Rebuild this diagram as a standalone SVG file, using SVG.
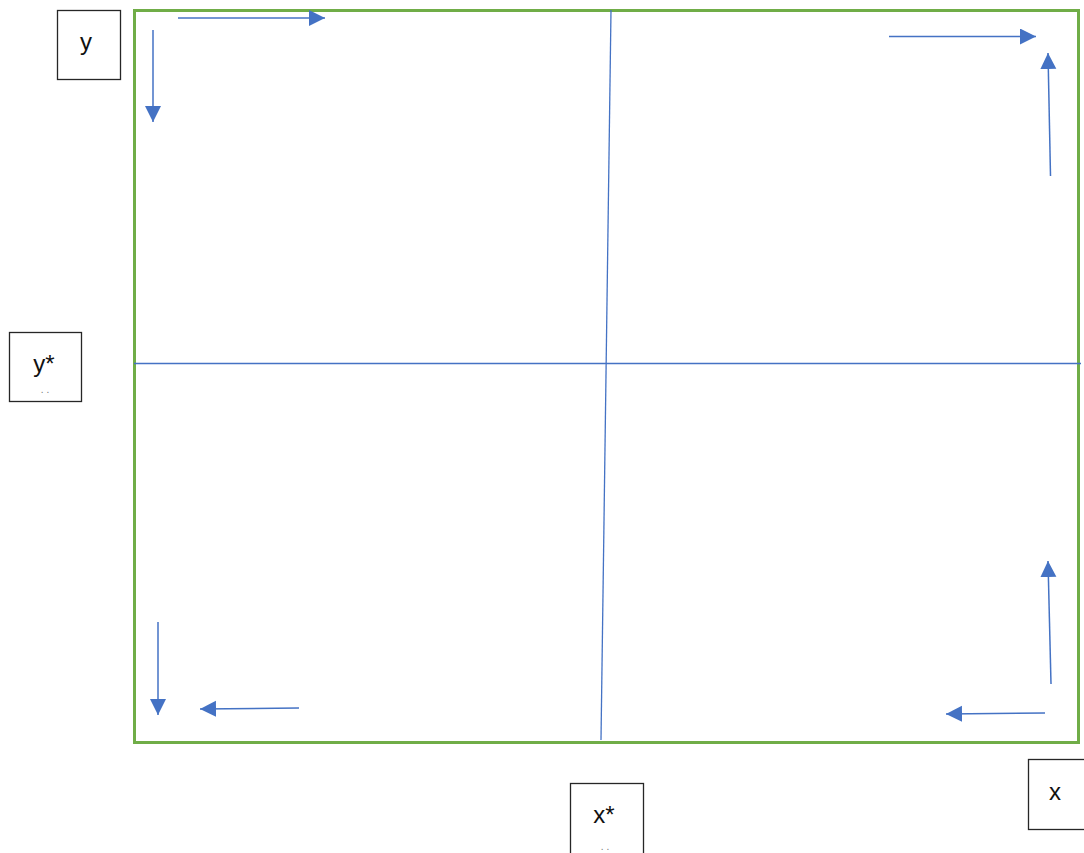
<svg xmlns="http://www.w3.org/2000/svg" width="1084" height="853" viewBox="0 0 1084 853">
<style>
.box{fill:#fff;stroke:#262626;stroke-width:1.3}
.lbl{font-family:"Liberation Sans",Arial,sans-serif;font-size:24px;fill:#111;text-anchor:middle}
.dot{font-family:"Liberation Sans",Arial,sans-serif;font-size:10px;fill:#777;text-anchor:middle}
.ax{stroke:#4472c4;stroke-width:1.3;fill:none}
.arr{stroke:#4472c4;stroke-width:1.5;fill:none;marker-end:url(#ah)}
</style>
<defs>
<marker id="ah" markerUnits="userSpaceOnUse" markerWidth="18" markerHeight="18" refX="16" refY="8" orient="auto">
<path d="M0,0 L16,8 L0,16 Z" fill="#4472c4"/>
</marker>
</defs>
<g id="frame">
<rect x="134.5" y="10.5" width="944" height="732" fill="none" stroke="#70ad47" stroke-width="3"/>
</g>
<g id="connectors">
<line class="ax" x1="134" y1="363.5" x2="1081" y2="363.5"/>
<line class="ax" x1="611" y1="10" x2="601" y2="740"/>
<line class="arr" x1="178" y1="18" x2="325" y2="18"/>
<line class="arr" x1="153" y1="30" x2="153" y2="122"/>
<line class="arr" x1="889" y1="36.5" x2="1036" y2="36.5"/>
<line class="arr" x1="1050.5" y1="176" x2="1048" y2="53"/>
<line class="arr" x1="158" y1="622" x2="158" y2="715"/>
<line class="arr" x1="299" y1="708" x2="200" y2="709"/>
<line class="arr" x1="1051" y1="684" x2="1048" y2="561"/>
<line class="arr" x1="1045" y1="713" x2="946" y2="714"/>
</g>
<g id="node-y">
<rect class="box" x="57.5" y="10.5" width="63" height="69"/>
<text class="lbl" x="86" y="50">y</text>
</g>
<g id="node-ystar">
<rect class="box" x="9.5" y="332.5" width="72" height="69"/>
<text class="lbl" x="44" y="372">y*</text>
<text class="dot" x="45" y="393">. .</text>
</g>
<g id="node-xstar">
<rect class="box" x="570.5" y="783.5" width="73" height="80"/>
<text class="lbl" x="604" y="823">x*</text>
<text class="dot" x="605" y="850">. .</text>
</g>
<g id="node-x">
<rect class="box" x="1028.5" y="759.5" width="60" height="70"/>
<text class="lbl" x="1055" y="800">x</text>
</g>
</svg>
